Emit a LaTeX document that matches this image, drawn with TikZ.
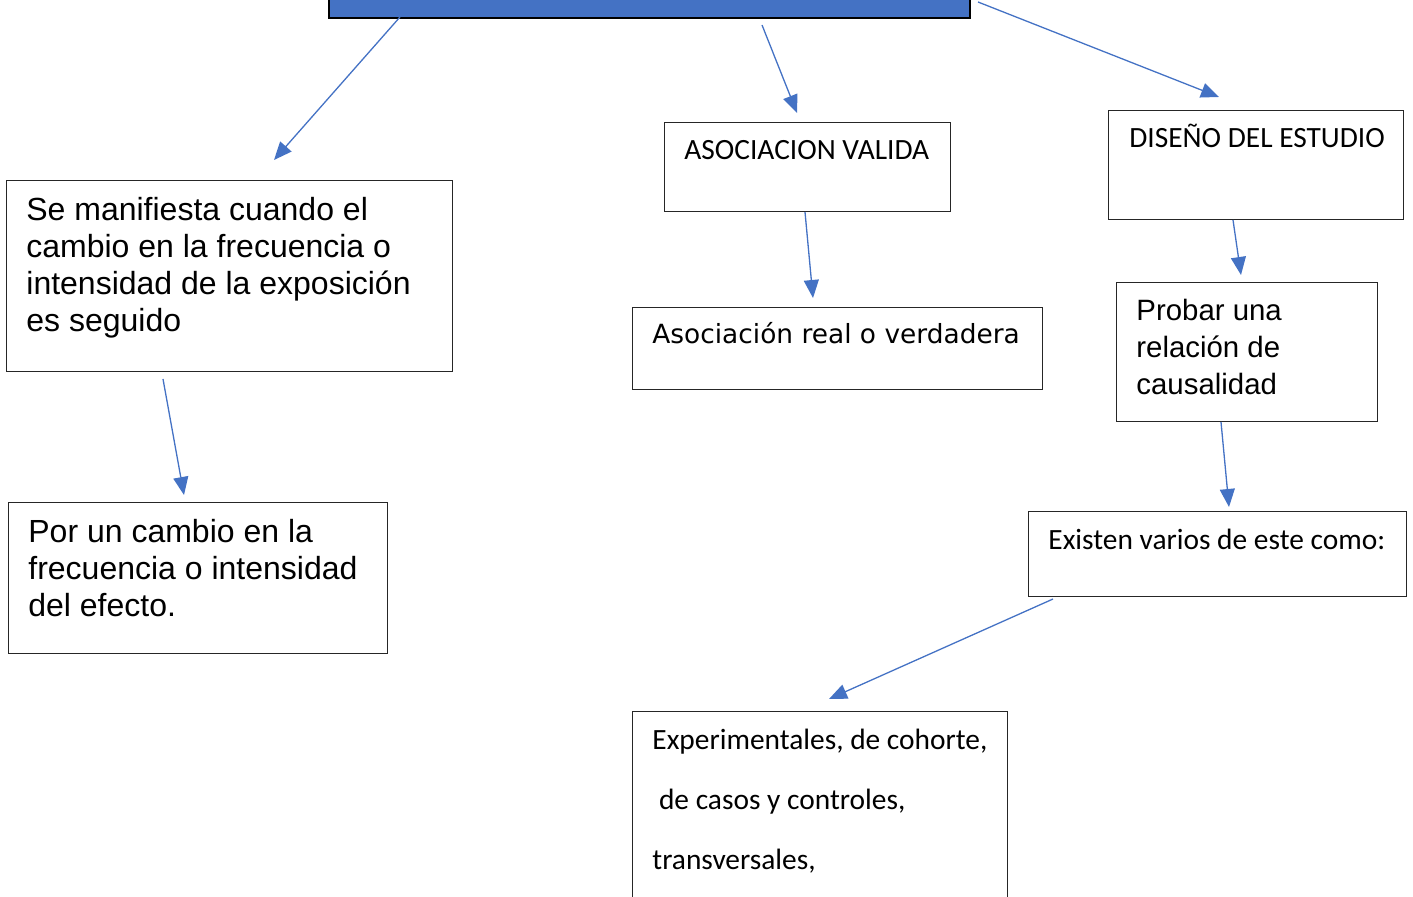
\documentclass[tikz,border=0pt]{standalone}
\usepackage{fontspec}
\setmainfont{Liberation Sans}
\newfontfamily\calibrifont{Carlito}
\newfontfamily\verdfont{DejaVu Sans}
\usetikzlibrary{arrows.meta}
\definecolor{wblue}{HTML}{4472C4}
\begin{document}
\begin{tikzpicture}[x=0.5pt,y=-0.5pt,
  box/.style={draw=black!85, line width=0.65pt, rectangle, inner sep=0pt, anchor=north west},
  txt/.style={anchor=base west, inner sep=0pt},
  arial/.style={font=\fontsize{16pt}{18.5pt}\selectfont},
  calib/.style={font=\calibrifont\fontsize{14.7pt}{17pt}\selectfont},
  conn/.style={draw=wblue, line width=0.65pt, -{Triangle[length=9pt,width=7.5pt]}}]
\useasboundingbox (0,0) rectangle (1413,897);
\clip (0,0) rectangle (1413,897);
% top bar
\node[box, fill=wblue, line width=1pt, draw=black, minimum width=320.5pt, minimum height=23.5pt] (top) at (328,-30) {};
% boxes
\node[box, minimum width=223pt, minimum height=95.5pt] (a) at (6,180) {};
\node[box, minimum width=189.5pt, minimum height=75.5pt] (b) at (8,502) {};
\node[box, minimum width=143pt, minimum height=44.5pt] (c) at (664,122) {};
\node[box, minimum width=205pt, minimum height=41pt] (d) at (632,307) {};
\node[box, minimum width=147.5pt, minimum height=54.5pt] (e) at (1108,110) {};
\node[box, minimum width=130.5pt, minimum height=69.5pt] (f) at (1116,282) {};
\node[box, minimum width=189pt, minimum height=42.5pt] (g) at (1028,511) {};
\node[box, minimum width=187.5pt, minimum height=104.5pt] (h) at (632,711) {};
% texts
\node[txt, arial] (at) at (26,221) {\vtop{\baselineskip=18.5pt\hbox{Se manifiesta cuando el}\hbox{cambio en la frecuencia o}\hbox{intensidad de la exposición}\hbox{es seguido}}};
\node[txt, arial] (bt) at (28,543) {\vtop{\baselineskip=18.3pt\hbox{Por un cambio en la}\hbox{frecuencia o intensidad}\hbox{del efecto.}}};
\node[txt, calib] (ct) at (684,160) {ASOCIACION VALIDA};
\node[txt, font=\verdfont\fontsize{13.2pt}{16pt}\selectfont] (dt) at (652,344) {Asociación real o verdadera};
\node[txt, calib] (et) at (1129,148) {DISEÑO DEL ESTUDIO};
\node[txt, font=\fontsize{14.7pt}{18.3pt}\selectfont] (ft) at (1136,321) {\vtop{\baselineskip=18.3pt\hbox{Probar una}\hbox{relación de}\hbox{causalidad}}};
\node[txt, calib] (gt) at (1048,550) {Existen varios de este como:};
\node[txt, calib] (ht) at (652,749) {\vtop{\baselineskip=30pt\hbox{Experimentales, de cohorte,}\hbox{ de casos y controles,}\hbox{transversales,}}};
% connector ends
\coordinate (s1) at (400,17);  \coordinate (e1) at (274,160);
\coordinate (s2) at (762,25);  \coordinate (e2) at (797,113);
\coordinate (s3) at (978,2);   \coordinate (e3) at (1219,97);
\coordinate (s4) at (805,212); \coordinate (e4) at (813,298);
\coordinate (s5) at (163,379); \coordinate (e5) at (184,495);
\coordinate (s6) at (1233,220);\coordinate (e6) at (1241,275);
\coordinate (s7) at (1221,422);\coordinate (e7) at (1229,507);
\coordinate (s8) at (1053,599);\coordinate (e8) at (829,699);
\foreach \i in {1,...,8} \draw[conn] (s\i) -- (e\i);
\end{tikzpicture}
\end{document}
